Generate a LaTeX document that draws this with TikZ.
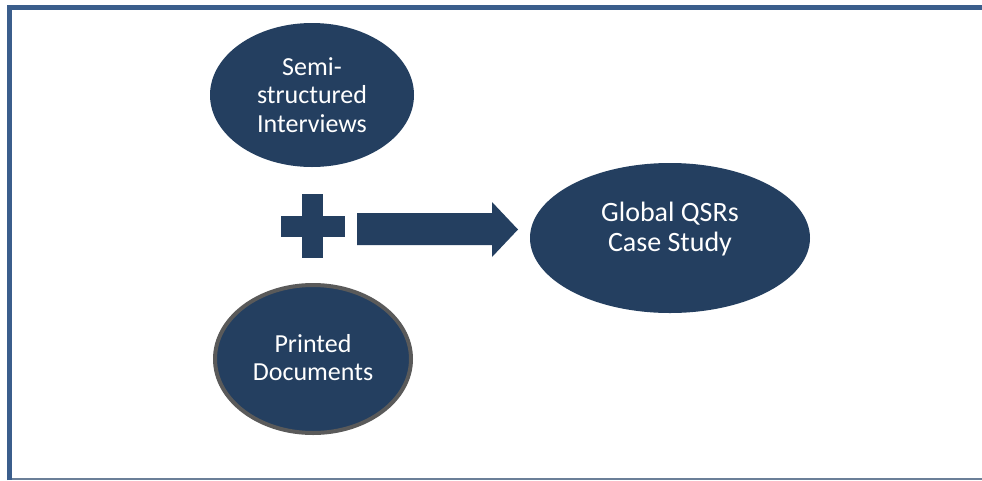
\documentclass[tikz,border=0pt]{standalone}
\usepackage{fontspec}
\setmainfont{Carlito}
\usetikzlibrary{shapes.geometric}
\definecolor{frameblue}{HTML}{3B5E8C}
\definecolor{framegray}{HTML}{6B7F98}
\definecolor{navy}{HTML}{243F60}
\definecolor{rimgray}{HTML}{5A5A5A}
\begin{document}
\begin{tikzpicture}[x=1pt,y=-1pt,
  blob/.style={ellipse, fill=navy, text=white, align=center, inner sep=0pt},
  blobtext/.style={text=white, align=center, inner sep=0pt},
  smalltext/.style={font=\fontsize{26}{28.5}\selectfont},
  bigtext/.style={font=\fontsize{28}{30}\selectfont}]
\useasboundingbox (0,0) rectangle (982,480);
\fill[white] (0,0) rectangle (982,480);
% frame
\draw[framegray, line width=2] (9.5,479) -- (982,479);
\draw[frameblue, line width=5] (9.5,480) -- (9.5,7.5) -- (982,7.5);
% source ellipses
\node[blob, smalltext, minimum width=204, minimum height=144] (interviews) at (312,95)
  {Semi-\\structured\\Interviews};
\node[blob, draw=rimgray, line width=4, minimum width=196, minimum height=148] (printed) at (313,359) {};
\node[blobtext, smalltext] (printedtext) at ([yshift=1.5pt]printed.center) {Printed\\Documents};
% result ellipse
\node[blob, minimum width=280, minimum height=150] (study) at (670,238) {};
\node[blobtext, bigtext] (studytext) at ([yshift=9pt]study.center) {Global QSRs\\Case Study};
% plus sign
\fill[navy] (281,216) rectangle (345,237);
\fill[navy] (302,194) rectangle (323,258);
% block arrow
\fill[navy] (357,213) -- (492,213) -- (492,202) -- (518,229.5) -- (492,257) -- (492,245) -- (357,245) -- cycle;
\end{tikzpicture}
\end{document}
